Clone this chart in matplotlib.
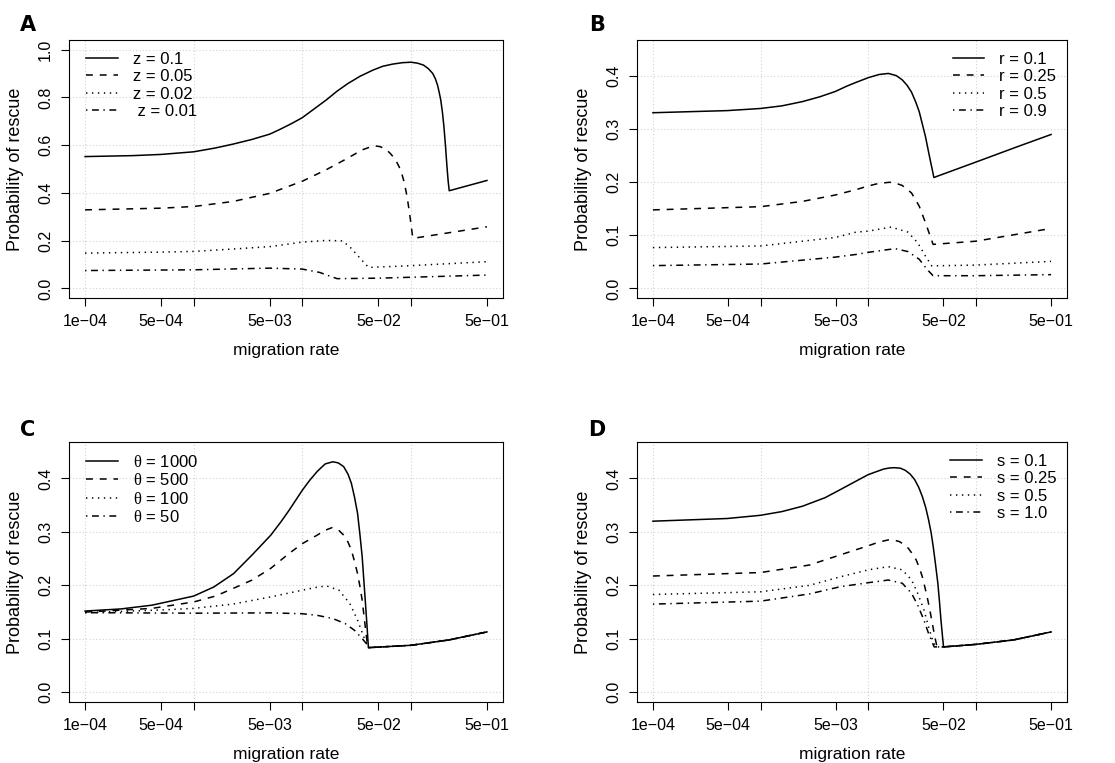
import matplotlib
matplotlib.use("Agg")
import matplotlib.pyplot as plt
import numpy as np

plt.rcParams['font.family'] = ['Liberation Sans', 'DejaVu Sans']
plt.rcParams['mathtext.fontset'] = 'custom'
plt.rcParams['mathtext.rm'] = 'Liberation Sans'
plt.rcParams['mathtext.it'] = 'Liberation Serif'

# ---------------- data (log10 migration rate, probability of rescue) ----------------
# Panel A
A_labels = ["z = 0.1", "z = 0.05", "z = 0.02", " z = 0.01"]
A_x1 = [-4.0, -3.56, -3.30, -3.0, -2.8, -2.64, -2.47, -2.30, -2.21, -2.1, -2.0, -1.89, -1.78,
        -1.68, -1.58, -1.47, -1.35, -1.26, -1.17, -1.08, -1.0, -0.94, -0.885, -0.84, -0.80,
        -0.775, -0.755, -0.74, -0.726, -0.71, -0.697, -0.683, -0.669, -0.658, -0.648, -0.301]
A_y1 = [0.552, 0.556, 0.561, 0.572, 0.588, 0.604, 0.623, 0.646, 0.665, 0.69, 0.715, 0.752, 0.789,
        0.826, 0.858, 0.888, 0.914, 0.93, 0.939, 0.945, 0.947, 0.943, 0.935, 0.92, 0.90,
        0.877, 0.85, 0.82, 0.789, 0.735, 0.678, 0.60, 0.511, 0.45, 0.409, 0.452]
A_x2 = [-4.0, -3.30, -3.0, -2.64, -2.30, -2.0, -1.78, -1.58, -1.45, -1.40, -1.36, -1.33, -1.28,
        -1.23, -1.19, -1.144, -1.11, -1.086, -1.06, -1.043, -1.028, -1.014, -1.0, -0.986, -0.977,
        -0.301]
A_y2 = [0.329, 0.336, 0.343, 0.364, 0.398, 0.449, 0.497, 0.546, 0.58, 0.588, 0.595, 0.597, 0.593,
        0.582, 0.565, 0.54, 0.51, 0.483, 0.44, 0.40, 0.36, 0.317, 0.27, 0.219, 0.21,
        0.258]
A_x3 = [-4.0, -3.3, -3.0, -2.64, -2.30, -2.0, -1.78, -1.63, -1.55, -1.46, -1.39, -1.06, -0.301]
A_y3 = [0.148, 0.152, 0.155, 0.165, 0.175, 0.194, 0.201, 0.199, 0.168, 0.122, 0.088, 0.094, 0.112]
A_x4 = [-4.0, -3.0, -2.30, -2.0, -1.84, -1.75, -1.68, -1.30, -0.301]
A_y4 = [0.075, 0.078, 0.085, 0.081, 0.067, 0.052, 0.041, 0.043, 0.056]

# Panel B
B_labels = ["r = 0.1", "r = 0.25", "r = 0.5", "r = 0.9"]
B_x1 = [-4.0, -3.309, -3.0, -2.8, -2.61, -2.45, -2.306, -2.2, -2.115, -2.0, -1.90, -1.813,
        -1.74, -1.684, -1.64, -1.598, -1.56, -1.526, -1.50, -1.468, -1.445, -1.425, -1.405,
        -1.39, -1.0, -0.614, -0.301]
B_y1 = [0.331, 0.335, 0.339, 0.344, 0.352, 0.361, 0.371, 0.381, 0.388, 0.397, 0.403, 0.405,
        0.401, 0.393, 0.383, 0.37, 0.352, 0.333, 0.312, 0.286, 0.263, 0.243, 0.224,
        0.209, 0.238, 0.267, 0.29]
B_x2 = [-4.0, -3.0, -2.61, -2.306, -2.115, -2.0, -1.9, -1.80, -1.74, -1.684, -1.598, -1.526,
        -1.468, -1.425, -1.397, -1.0, -0.301]
B_y2 = [0.148, 0.154, 0.164, 0.176, 0.186, 0.193, 0.198, 0.2, 0.198, 0.194, 0.18, 0.155,
        0.124, 0.099, 0.083, 0.089, 0.113]
B_x3 = [-4.0, -3.0, -2.306, -2.115, -2.0, -1.787, -1.63, -1.54, -1.468, -1.41, -1.0, -0.301]
B_y3 = [0.077, 0.080, 0.096, 0.106, 0.108, 0.1156, 0.106, 0.086, 0.061, 0.0425, 0.044, 0.051]
B_x4 = [-4.0, -3.0, -2.306, -2.115, -2.0, -1.75, -1.63, -1.526, -1.454, -1.397, -1.0, -0.301]
B_y4 = [0.043, 0.046, 0.059, 0.064, 0.068, 0.075, 0.0694, 0.055, 0.036, 0.024, 0.024, 0.026]

# Panel C
C_labels = [r"$\theta$ = 1000", r"$\theta$ = 500", r"$\theta$ = 100", r"$\theta$ = 50"]
C_tail_x = [-1.0, -0.65, -0.301]
C_tail_y = [0.088, 0.098, 0.113]
C_x1 = [-4.0, -3.668, -3.384, -3.0, -2.815, -2.633, -2.462, -2.29, -2.2, -2.12, -2.0, -1.93,
        -1.863, -1.79, -1.72, -1.67, -1.62, -1.58, -1.549, -1.52, -1.492, -1.47, -1.449, -1.435,
        -1.421, -1.405, -1.392]
C_y1 = [0.152, 0.156, 0.163, 0.18, 0.197, 0.222, 0.257, 0.294, 0.318, 0.341, 0.378, 0.397,
        0.413, 0.427, 0.431, 0.429, 0.422, 0.408, 0.391, 0.365, 0.335, 0.295, 0.253, 0.212,
        0.172, 0.125, 0.0836]
C_x2 = [-4.0, -3.384, -3.0, -2.8, -2.64, -2.462, -2.29, -2.12, -2.0, -1.863, -1.79, -1.726,
        -1.67, -1.62, -1.58, -1.549, -1.52, -1.492, -1.47, -1.449, -1.428, -1.406, -1.392]
C_y2 = [0.15, 0.157, 0.169, 0.18, 0.194, 0.21, 0.232, 0.26, 0.278, 0.294, 0.303, 0.308,
        0.304, 0.294, 0.281, 0.266, 0.245, 0.222, 0.198, 0.172, 0.135, 0.097, 0.0836]
C_x3 = [-4.0, -3.30, -3.0, -2.64, -2.29, -2.0, -1.88, -1.777, -1.663, -1.563, -1.492, -1.435,
        -1.392]
C_y3 = [0.149, 0.154, 0.157, 0.165, 0.1785, 0.191, 0.196, 0.199, 0.191, 0.166, 0.135, 0.104,
        0.0836]
C_x4 = [-4.0, -3.0, -2.29, -2.0, -1.863, -1.72, -1.606, -1.52, -1.449, -1.406, -1.392]
C_y4 = [0.149, 0.148, 0.1486, 0.147, 0.144, 0.138, 0.1286, 0.116, 0.1005, 0.09, 0.0836]

# Panel D
D_labels = ["s = 0.1", "s = 0.25", "s = 0.5", "s = 1.0"]
D_tail_x = [-1.30, -1.0, -0.65, -0.301]
D_tail_y = [0.085, 0.0897, 0.098, 0.113]
D_x1 = [-4.0, -3.309, -3.0, -2.8, -2.61, -2.4, -2.259, -2.13, -2.0, -1.856, -1.80, -1.755,
        -1.70, -1.655, -1.61, -1.568, -1.53, -1.497, -1.465, -1.439, -1.415, -1.396, -1.375,
        -1.353, -1.338, -1.324, -1.31]
D_y1 = [0.32, 0.325, 0.331, 0.338, 0.348, 0.364, 0.379, 0.393, 0.407, 0.4175, 0.4195, 0.42,
        0.419, 0.415, 0.408, 0.3975, 0.383, 0.366, 0.345, 0.3225, 0.298, 0.2725, 0.24,
        0.204, 0.17, 0.135, 0.105]
D_x2 = [-4.0, -3.0, -2.547, -2.259, -2.0, -1.9, -1.813, -1.76, -1.712, -1.67, -1.626, -1.59,
        -1.554, -1.525, -1.497, -1.475, -1.453, -1.43, -1.41, -1.381, -1.361]
D_y2 = [0.2175, 0.224, 0.238, 0.257, 0.274, 0.281, 0.285, 0.2845, 0.282, 0.277, 0.269, 0.259,
        0.2475, 0.233, 0.216, 0.198, 0.179, 0.157, 0.135, 0.104, 0.085]
D_x3 = [-4.0, -3.0, -2.547, -2.259, -2.0, -1.813, -1.683, -1.597, -1.54, -1.482, -1.439, -1.396,
        -1.373]
D_y3 = [0.183, 0.188, 0.2, 0.216, 0.229, 0.235, 0.229, 0.21, 0.185, 0.154, 0.1225, 0.094, 0.085]
D_x4 = [-4.0, -3.0, -2.547, -2.259, -2.0, -1.813, -1.683, -1.597, -1.54, -1.482, -1.439, -1.40,
        -1.387]
D_y4 = [0.165, 0.1705, 0.184, 0.1975, 0.205, 0.21, 0.204, 0.185, 0.163, 0.135, 0.11, 0.091, 0.085]

x_ticks = [1e-4, 5e-4, 1e-3, 5e-3, 1e-2, 5e-2, 1e-1, 5e-1]
x_ticklabels = ["1e\u221204", "5e\u221204", "", "5e\u221203", "", "5e\u221202", "", "5e\u221201"]
x_grid = [1e-4, 1e-3, 1e-2, 1e-1]
yt_A = [0.0, 0.2, 0.4, 0.6, 0.8, 1.0]
yt_B = [0.0, 0.1, 0.2, 0.3, 0.4]

# ---------------- styles ----------------
LW = 1.1
styles = [dict(linestyle='-'),
          dict(linestyle=(0, (4.5, 4.5))),
          dict(linestyle=(0, (0.9, 3.0))),
          dict(linestyle=(0, (0.9, 3.0, 4.5, 3.0)))]

W, H = 1115, 763
fig = plt.figure(figsize=(W / 100, H / 100), dpi=100)

def rect(l, t, r, b):
    return [l / W, 1 - b / H, (r - l) / W, (b - t) / H]

ax_rects = {
    'A': rect(69, 40, 503, 298),
    'B': rect(637, 40, 1067, 298),
    'C': rect(69, 442, 503, 702),
    'D': rect(637, 442, 1067, 702),
}

xlo, xhi = -4.0, np.log10(5e-1)
ext = 0.04 * (xhi - xlo)
xlim = (10 ** (xlo - ext), 10 ** (xhi + ext))


def setup(ax, ymax, yticks):
    ax.set_xscale('log')
    ax.set_xlim(*xlim)
    ax.set_ylim(-0.04 * ymax, ymax * 1.04)
    for g in x_grid:
        ax.axvline(g, color='#d3d3d3', lw=0.8, ls=(0, (1, 2)), zorder=0)
    for yv in yticks:
        ax.axhline(yv, color='#d3d3d3', lw=0.8, ls=(0, (1, 2)), zorder=0)
    ax.set_xticks(x_ticks)
    ax.set_xticklabels(x_ticklabels)
    ax.xaxis.set_minor_locator(matplotlib.ticker.NullLocator())
    ax.set_yticks(yticks)
    ax.set_yticklabels(["%.1f" % v for v in yticks], rotation=90, va='center')
    ax.tick_params(axis='both', direction='out', length=5.5, width=0.8, labelsize=11.5,
                   pad=6, color='black')
    for sp in ax.spines.values():
        sp.set_linewidth(0.8)
    ax.set_xlabel("migration rate", fontsize=12.5, labelpad=10)
    ax.set_ylabel("Probability of rescue", fontsize=13, labelpad=10)


def draw(ax, xs, ys, tail=None):
    handles = []
    for i, (x, y) in enumerate(zip(xs, ys)):
        xx = list(x)
        yy = list(y)
        if tail is not None:
            xx += tail[0]
            yy += tail[1]
        h, = ax.plot(10 ** np.array(xx), yy, color='black', lw=LW, **styles[i])
        handles.append(h)
    return handles


panels = {
    'A': ([A_x1, A_x2, A_x3, A_x4], [A_y1, A_y2, A_y3, A_y4], A_labels, None, 1.0, yt_A, 'left'),
    'B': ([B_x1, B_x2, B_x3, B_x4], [B_y1, B_y2, B_y3, B_y4], B_labels, None, 0.45, yt_B, 'right'),
    'C': ([C_x1, C_x2, C_x3, C_x4], [C_y1, C_y2, C_y3, C_y4], C_labels, (C_tail_x, C_tail_y), 0.45, yt_B, 'left'),
    'D': ([D_x1, D_x2, D_x3, D_x4], [D_y1, D_y2, D_y3, D_y4], D_labels, (D_tail_x, D_tail_y), 0.45, yt_B, 'right'),
}

letter_pos = {'A': (28, 25), 'B': (597, 25), 'C': (28, 430), 'D': (597, 430)}

for key, (xs, ys, labels, tail, ymax, yticks, side) in panels.items():
    ax = fig.add_axes(ax_rects[key])
    setup(ax, ymax, yticks)
    hs = draw(ax, xs, ys, tail)
    common = dict(frameon=False, fontsize=12, handlelength=1.9, handletextpad=0.9,
                  labelspacing=0.15, borderpad=0, borderaxespad=0)
    if side == 'left':
        ax.legend(hs, labels, loc='upper left', bbox_to_anchor=(0.04, 0.955), **common)
    else:
        ax.legend(hs, labels, loc='upper right', bbox_to_anchor=(0.975, 0.955), **common)
    lx, ly = letter_pos[key]
    fig.text(lx / W, 1 - ly / H, key, fontsize=15, fontweight='bold',
             family='DejaVu Sans', ha='center', va='center')

fig.savefig("out.png", dpi=100)
